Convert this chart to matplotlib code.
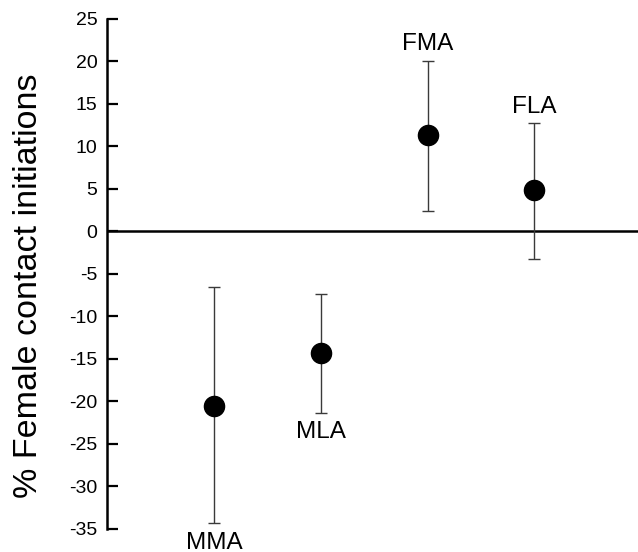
import matplotlib.pyplot as plt

plt.rcParams['font.family'] = ['Liberation Sans', 'DejaVu Sans']
plt.rcParams['axes.unicode_minus'] = False

# group labels and their horizontal positions
groups = ['MMA', 'MLA', 'FMA', 'FLA']
xpos = [1, 2, 3, 4]

# mean and error bar ends (% female contact initiations)
means = [-20.5, -14.3, 11.3, 4.9]
upper = [-6.5, -7.4, 20.1, 12.8]
lower = [-34.3, -21.3, 2.4, -3.2]

# baseline of each group label
label_y = [-37.4, -24.3, 21.4, 13.9]

err_lo = [m - l for m, l in zip(means, lower)]
err_hi = [u - m for m, u in zip(means, upper)]

fig = plt.figure(figsize=(6.38, 5.52), dpi=100)
ax = fig.add_axes([0.1677, 0.0417, 0.8323, 0.924])

ax.axhline(0, color='black', lw=1.8, zorder=1)
ax.errorbar(xpos, means, yerr=[err_lo, err_hi], fmt='o', color='black',
            ecolor='#3a3a3a', elinewidth=1, capsize=4.5, capthick=1,
            markersize=14.5, zorder=3)

for x, y, name in zip(xpos, label_y, groups):
    ax.text(x, y, name, ha='center', va='baseline', fontsize=17.5, clip_on=False)

ax.set_ylim(-35, 25)
ax.set_xlim(0, 4.97)
ax.set_yticks(range(-35, 30, 5))
ax.tick_params(axis='y', direction='in', length=8, width=1.6, labelsize=14, pad=7)
ax.set_xticks([])
for s in ['top', 'right', 'bottom']:
    ax.spines[s].set_visible(False)
ax.spines['left'].set_linewidth(1.8)
ax.set_ylabel('% Female contact initiations', fontsize=24.5)
ax.yaxis.set_label_coords(-0.118, 0.476)

fig.savefig('out.png', dpi=100)
